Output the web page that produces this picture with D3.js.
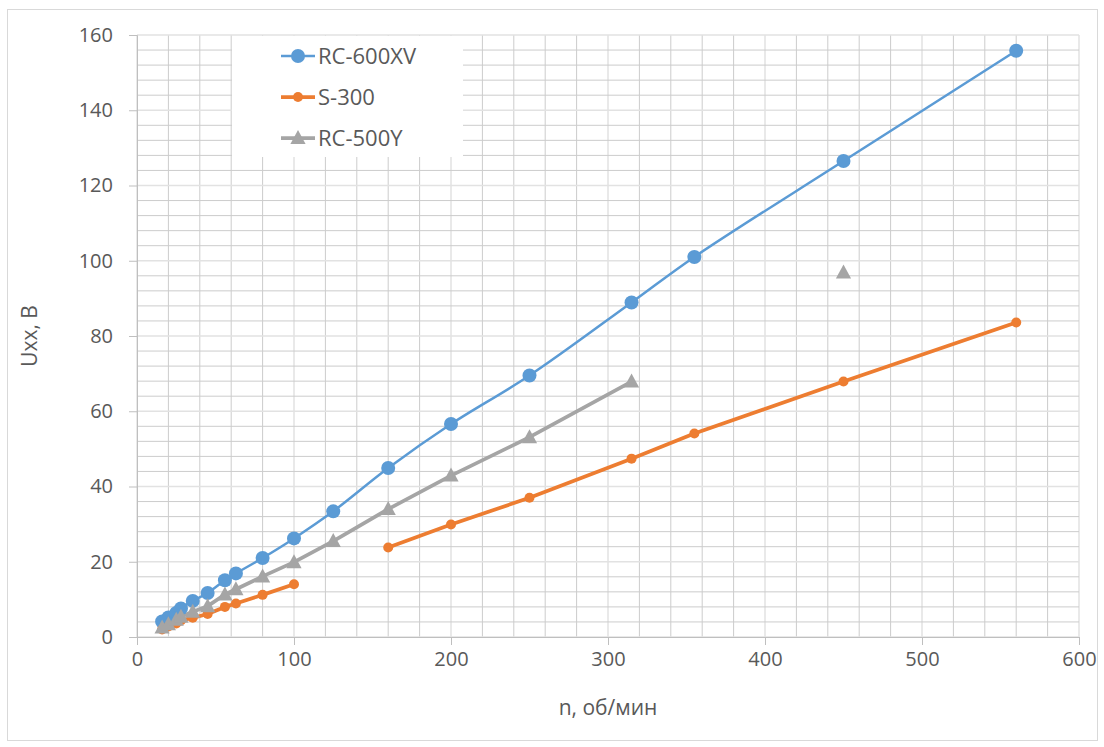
<!DOCTYPE html>
<html>
<head>
<meta charset="utf-8">
<script src="https://cdn.jsdelivr.net/npm/d3@7"></script>
<style>
  body { margin: 0; background: #fff; }
  text { font-family: "Open Sans", "DejaVu Sans", sans-serif; }
</style>
</head>
<body>
<svg id="chart"></svg>
<script>
// --- data ---
const rpm = [16, 20, 25, 28, 35.5, 45, 56, 63, 80, 100, 125, 160, 200, 250, 315, 355, 450, 560];
const rc600 = [4.1, 5.2, 6.4, 7.6, 9.6, 11.7, 15.1, 16.9, 21.0, 26.2, 33.4, 44.9, 56.6, 69.5, 88.9, 101.0, 126.5, 155.8];
const s300 = [2.0, 2.8, 3.6, 4.4, 5.1, 6.1, 8.0, 8.9, 11.2, 14.0, null, 23.8, 29.9, 37.0, 47.4, 54.1, 67.9, 83.6];
const rc500 = [2.5, 3.4, 4.6, 5.4, 6.7, 8.2, 11.3, 12.7, 16.1, 19.9, 25.5, 34.0, 42.9, 53.1, 67.9, null, 96.9, null];
const seriesNames = ["RC-600XV", "S-300", "RC-500Y"];
const xTicks = [0, 100, 200, 300, 400, 500, 600];
const yTicks = [0, 20, 40, 60, 80, 100, 120, 140, 160];

const W = 1104, H = 747;
const margin = { top: 35, right: 25, bottom: 110, left: 137 };
const width = W - margin.left - margin.right;
const height = H - margin.top - margin.bottom;

const svg = d3.select("#chart").attr("width", W).attr("height", H);

// outer chart border
svg.append("rect")
  .attr("x", 7.5).attr("y", 9.5)
  .attr("width", 1090).attr("height", 731)
  .attr("fill", "#fff").attr("stroke", "#d9d9d9");

const g = svg.append("g").attr("transform", `translate(${margin.left},${margin.top})`);

const x = d3.scaleLinear().domain([0, 600]).range([0, width]);
const y = d3.scaleLinear().domain([0, 160]).range([height, 0]);

// grid: minor every 20 / 4, major every 100 / 20
g.append("g").selectAll("line")
  .data(d3.range(0, 601, 20))
  .join("line")
  .attr("x1", d => x(d)).attr("x2", d => x(d))
  .attr("y1", 0).attr("y2", height)
  .attr("stroke", d => d % 100 === 0 ? "#e2e2e2" : "#cccccc")
  .attr("stroke-width", d => d % 100 === 0 ? 1.5 : 1);

g.append("g").selectAll("line")
  .data(d3.range(0, 161, 4))
  .join("line")
  .attr("x1", 0).attr("x2", width)
  .attr("y1", d => y(d)).attr("y2", d => y(d))
  .attr("stroke", d => d % 20 === 0 ? "#e2e2e2" : "#cccccc")
  .attr("stroke-width", d => d % 20 === 0 ? 1.5 : 1);

// axes
const xAxis = g.append("g")
  .attr("transform", `translate(0,${height})`)
  .call(d3.axisBottom(x).tickValues(xTicks).tickSize(8).tickPadding(7));
const yAxis = g.append("g")
  .call(d3.axisLeft(y).tickValues(yTicks).tickSize(8).tickPadding(16));

[xAxis, yAxis].forEach(a => {
  a.select(".domain").attr("stroke", "#bfbfbf");
  a.selectAll(".tick line").attr("stroke", "#bfbfbf");
  a.selectAll(".tick text")
    .attr("fill", "#595959")
    .style("font-size", "20px")
    .style("font-family", "'Open Sans', sans-serif");
});

// axis titles
svg.append("text")
  .attr("x", margin.left + width / 2).attr("y", 715)
  .attr("text-anchor", "middle")
  .attr("fill", "#595959")
  .style("font-size", "21px")
  .text("n, об/мин");

svg.append("text")
  .attr("transform", `translate(37,${margin.top + height / 2}) rotate(-90)`)
  .attr("text-anchor", "middle")
  .attr("fill", "#595959")
  .style("font-size", "21px")
  .text("Uxx, В");

// series
const series = [
  { name: seriesNames[0], vals: rc600, color: "#5B9BD5", lw: 2.5, marker: "circle", size: 7, curve: d3.curveCatmullRom.alpha(0.5) },
  { name: seriesNames[1], vals: s300, color: "#ED7D31", lw: 3.75, marker: "circle", size: 5, curve: d3.curveLinear },
  { name: seriesNames[2], vals: rc500, color: "#A5A5A5", lw: 3.75, marker: "triangle", size: 8, curve: d3.curveLinear }
];

const triPath = s => `M0,${-s}L${s * 0.95},${s * 0.75}L${-s * 0.95},${s * 0.75}Z`;

const plot = g.append("g");

series.forEach(s => {
  const pts = rpm.map((n, i) => ({ n, v: s.vals[i] }));
  const line = d3.line()
    .defined(d => d.v !== null)
    .x(d => x(d.n))
    .y(d => y(d.v))
    .curve(s.curve);
  plot.append("path")
    .datum(pts)
    .attr("fill", "none")
    .attr("stroke", s.color)
    .attr("stroke-width", s.lw)
    .attr("stroke-linejoin", "round")
    .attr("d", line);
});

series.forEach(s => {
  const pts = rpm.map((n, i) => ({ n, v: s.vals[i] })).filter(d => d.v !== null);
  if (s.marker === "circle") {
    plot.append("g").selectAll("circle")
      .data(pts).join("circle")
      .attr("cx", d => x(d.n)).attr("cy", d => y(d.v))
      .attr("r", s.size)
      .attr("fill", s.color);
  } else {
    plot.append("g").selectAll("path")
      .data(pts).join("path")
      .attr("transform", d => `translate(${x(d.n)},${y(d.v)})`)
      .attr("d", triPath(s.size))
      .attr("fill", s.color);
  }
});

// legend (white box over the grid)
const legend = svg.append("g");
legend.append("rect")
  .attr("x", 232).attr("y", 36)
  .attr("width", 231).attr("height", 121)
  .attr("fill", "#fff");

const legendItem = legend.selectAll(".legend-item")
  .data(series)
  .join("g")
  .attr("class", "legend-item")
  .attr("transform", (d, i) => `translate(281,${56 + i * 41})`);

legendItem.append("line")
  .attr("x1", 0).attr("x2", 34)
  .attr("stroke", d => d.color)
  .attr("stroke-width", d => d.lw);

legendItem.each(function(d) {
  const it = d3.select(this);
  if (d.marker === "circle") {
    it.append("circle").attr("cx", 17).attr("r", d.size).attr("fill", d.color);
  } else {
    it.append("path").attr("transform", "translate(17,0)").attr("d", triPath(d.size)).attr("fill", d.color);
  }
});

legendItem.append("text")
  .attr("x", 37).attr("dy", "0.35em")
  .attr("fill", "#595959")
  .style("font-size", "22px")
  .text(d => d.name);
</script>
</body>
</html>
